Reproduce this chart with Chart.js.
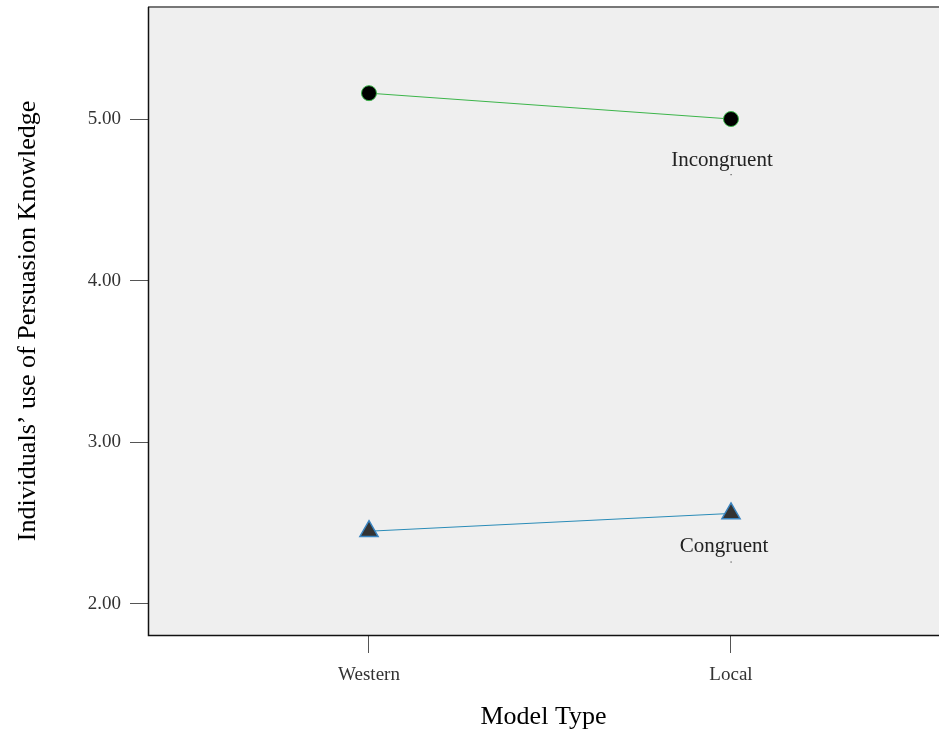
<!DOCTYPE html>
<html>
<head>
<meta charset="utf-8">
<script src="https://cdn.jsdelivr.net/npm/chart.js@4/dist/chart.umd.min.js"></script>
<style>
  html, body { margin: 0; padding: 0; background: #ffffff; overflow: hidden; }
  #wrap { width: 939px; height: 731px; }
</style>
</head>
<body>
<div id="wrap"><canvas id="c" width="939" height="731"></canvas></div>
<script>
// Model type categories along the x axis
const modelTypes = ['Western', 'Local'];
// Mean persuasion-knowledge scores per condition
const incongruentMeans = [5.16, 5.00];
const congruentMeans = [2.45, 2.56];
// Y axis tick values
const yTicks = [2, 3, 4, 5];
const seriesNames = ['Incongruent', 'Congruent'];

const FONT = "'Liberation Serif', 'DejaVu Serif', serif";

const toPoints = vals => vals.map((v, i) => ({ x: i + 1, y: v }));

// Keep the plot panel exactly where the axis boxes put it
function fixedBox(size, horizontal) {
  return scale => {
    if (horizontal) scale.height = size; else scale.width = size;
    scale.paddingTop = 0;
    scale.paddingBottom = 0;
    scale.paddingLeft = 0;
    scale.paddingRight = 0;
  };
}

// Background panel and frame lines
const framePlugin = {
  id: 'frame',
  beforeDraw(chart) {
    const { ctx, chartArea: a } = chart;
    ctx.save();
    ctx.fillStyle = '#efefef';
    ctx.fillRect(a.left, a.top, a.right - a.left, a.bottom - a.top);
    ctx.restore();
  },
  afterDraw(chart) {
    const { ctx, chartArea: a } = chart;
    ctx.save();
    ctx.strokeStyle = '#777777';
    ctx.lineWidth = 2;
    ctx.beginPath();
    ctx.moveTo(a.left, a.top);
    ctx.lineTo(a.right, a.top);
    ctx.stroke();
    ctx.strokeStyle = '#111111';
    ctx.lineWidth = 1.5;
    ctx.beginPath();
    ctx.moveTo(a.left + 0.5, a.top);
    ctx.lineTo(a.left + 0.5, a.bottom + 0.5);
    ctx.lineTo(a.right, a.bottom + 0.5);
    ctx.stroke();
    ctx.restore();
  }
};

// Series name written beneath the last point of each line
const seriesLabelPlugin = {
  id: 'seriesLabels',
  afterDatasetsDraw(chart, args, opts) {
    const { ctx } = chart;
    ctx.save();
    ctx.font = '21px ' + FONT;
    ctx.textAlign = 'center';
    ctx.textBaseline = 'middle';
    chart.data.datasets.forEach((ds, i) => {
      const meta = chart.getDatasetMeta(i);
      const pt = meta.data[meta.data.length - 1];
      const off = opts.offsets[i];
      ctx.fillStyle = '#222222';
      ctx.fillText(ds.label, pt.x + off.dx, pt.y + off.dy);
      ctx.fillStyle = '#555555';
      ctx.fillRect(pt.x - 0.5, pt.y + off.dot, 1.2, 1.2);
    });
    ctx.restore();
  }
};

new Chart(document.getElementById('c'), {
  type: 'line',
  data: {
    datasets: [
      {
        label: seriesNames[0],
        data: toPoints(incongruentMeans),
        borderColor: '#3cb54a',
        borderWidth: 1,
        pointStyle: 'circle',
        pointRadius: 7.5,
        pointBackgroundColor: '#000000',
        pointBorderColor: '#3cb54a',
        pointBorderWidth: 1
      },
      {
        label: seriesNames[1],
        data: toPoints(congruentMeans),
        borderColor: '#2a8cb8',
        borderWidth: 1,
        pointStyle: 'triangle',
        pointRadius: 10.5,
        pointBackgroundColor: '#333333',
        pointBorderColor: '#3a84c0',
        pointBorderWidth: 1.5
      }
    ]
  },
  options: {
    responsive: false,
    animation: false,
    layout: { autoPadding: false, padding: { top: 7, right: 0, left: 0, bottom: 0 } },
    plugins: {
      legend: { display: false },
      tooltip: { enabled: false },
      seriesLabels: { offsets: [{ dx: -9, dy: 41, dot: 55 }, { dx: -7, dy: 33, dot: 48 }] }
    },
    scales: {
      x: {
        type: 'linear',
        min: 0.3895,
        max: 2.5746,
        afterBuildTicks(scale) { scale.ticks = modelTypes.map((_, i) => ({ value: i + 1 })); },
        afterFit: fixedBox(96, true),
        ticks: {
          callback: v => modelTypes[Math.round(v) - 1] || '',
          color: '#333333',
          font: { family: FONT, size: 19 },
          padding: 11,
          maxRotation: 0,
          autoSkip: false
        },
        grid: { drawOnChartArea: false, drawTicks: true, tickLength: 18, color: '#555555', lineWidth: 1 },
        border: { display: false },
        title: {
          display: true,
          text: 'Model Type',
          color: '#000000',
          font: { family: FONT, size: 26, lineHeight: 1 },
          padding: { top: 0, bottom: 1 }
        }
      },
      y: {
        type: 'linear',
        min: 1.808,
        max: 5.693,
        afterBuildTicks(scale) { scale.ticks = yTicks.map(v => ({ value: v })); },
        afterFit: fixedBox(148, false),
        ticks: {
          callback: v => Number(v).toFixed(2),
          color: '#333333',
          font: { family: FONT, size: 19 },
          padding: 9
        },
        grid: { drawOnChartArea: false, drawTicks: true, tickLength: 18, color: '#555555', lineWidth: 1 },
        border: { display: false },
        title: {
          display: true,
          text: 'Individuals’ use of Persuasion Knowledge',
          color: '#000000',
          font: { family: FONT, size: 26, lineHeight: 1 },
          padding: { top: 15, bottom: 0 }
        }
      }
    }
  },
  plugins: [framePlugin, seriesLabelPlugin]
});
</script>
</body>
</html>
